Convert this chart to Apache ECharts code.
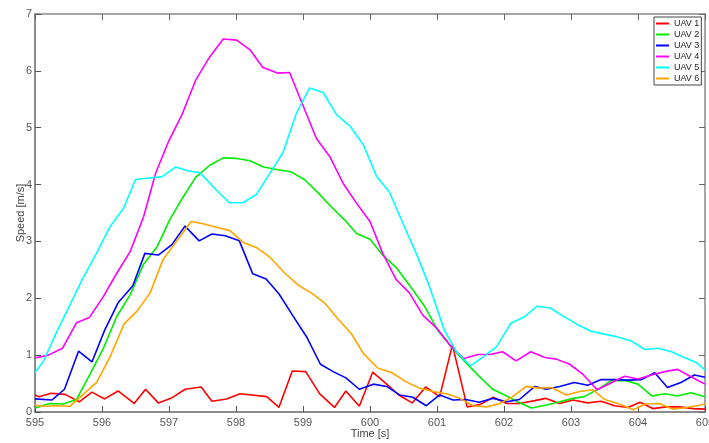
<!DOCTYPE html>
<html lang="en">

<head>
    <meta charset="UTF-8">
    <title>UAV speed</title>
    <style>
        html,
        body {
            margin: 0;
            padding: 0;
            background: #fff;
        }
    </style>
</head>

<body>
    <div id="main" style="width: 709px;height:443px;"></div>
    <script src="https://cdn.jsdelivr.net/npm/echarts@6/dist/echarts.min.js"></script>
    <script type="text/javascript">
        // [time s, speed m/s]
        var uav1 = [[595.0, 0.30], [595.06, 0.27], [595.24, 0.33], [595.45, 0.31], [595.66, 0.18], [595.85, 0.35], [596.04, 0.23], [596.24, 0.37], [596.48, 0.15], [596.65, 0.40], [596.84, 0.16], [597.03, 0.24], [597.24, 0.40], [597.48, 0.44], [597.64, 0.19], [597.86, 0.23], [598.06, 0.32], [598.46, 0.27], [598.64, 0.08], [598.84, 0.72], [599.04, 0.71], [599.25, 0.32], [599.47, 0.08], [599.64, 0.37], [599.84, 0.10], [600.04, 0.70], [600.24, 0.50], [600.44, 0.29], [600.63, 0.16], [600.83, 0.44], [601.04, 0.27], [601.23, 1.18], [601.45, 0.09], [601.64, 0.13], [601.84, 0.26], [602.04, 0.15], [602.23, 0.15], [602.46, 0.20], [602.62, 0.24], [602.83, 0.15], [603.03, 0.21], [603.25, 0.16], [603.45, 0.19], [603.65, 0.11], [603.85, 0.08], [604.03, 0.17], [604.22, 0.06], [604.42, 0.09], [604.62, 0.09], [604.83, 0.06], [605.0, 0.05]];
        var uav2 = [[595.0, 0.07], [595.22, 0.15], [595.42, 0.14], [595.62, 0.22], [595.82, 0.66], [596.02, 1.12], [596.22, 1.68], [596.42, 2.06], [596.62, 2.60], [596.82, 2.90], [597.01, 3.38], [597.2, 3.76], [597.4, 4.13], [597.61, 4.34], [597.81, 4.47], [598.01, 4.46], [598.21, 4.42], [598.41, 4.31], [598.63, 4.26], [598.83, 4.22], [599.03, 4.08], [599.23, 3.85], [599.42, 3.61], [599.62, 3.38], [599.8, 3.14], [600.0, 3.04], [600.19, 2.76], [600.4, 2.53], [600.62, 2.18], [600.82, 1.85], [601.01, 1.44], [601.23, 1.12], [601.42, 0.88], [601.62, 0.64], [601.83, 0.40], [602.01, 0.30], [602.2, 0.18], [602.41, 0.07], [602.62, 0.12], [602.83, 0.18], [603.03, 0.24], [603.2, 0.27], [603.43, 0.42], [603.6, 0.55], [603.82, 0.55], [604.0, 0.49], [604.21, 0.28], [604.4, 0.32], [604.59, 0.28], [604.79, 0.34], [605.0, 0.27]];
        var uav3 = [[595.0, 0.23], [595.25, 0.21], [595.44, 0.40], [595.65, 1.07], [595.85, 0.88], [596.04, 1.44], [596.24, 1.92], [596.46, 2.22], [596.64, 2.79], [596.84, 2.76], [597.04, 2.94], [597.24, 3.27], [597.45, 3.01], [597.64, 3.13], [597.84, 3.10], [598.05, 3.01], [598.25, 2.43], [598.45, 2.34], [598.64, 2.08], [598.85, 1.69], [599.06, 1.31], [599.26, 0.84], [599.45, 0.71], [599.64, 0.60], [599.84, 0.40], [600.05, 0.49], [600.25, 0.45], [600.44, 0.30], [600.64, 0.26], [600.84, 0.11], [601.04, 0.30], [601.24, 0.21], [601.43, 0.22], [601.63, 0.17], [601.84, 0.24], [602.04, 0.18], [602.23, 0.22], [602.46, 0.45], [602.63, 0.40], [602.83, 0.45], [603.05, 0.52], [603.25, 0.47], [603.45, 0.57], [603.65, 0.57], [603.85, 0.56], [604.05, 0.57], [604.25, 0.69], [604.44, 0.43], [604.64, 0.52], [604.84, 0.65], [605.0, 0.61]];
        var uav4 = [[595.0, 0.95], [595.2, 1.00], [595.41, 1.12], [595.62, 1.57], [595.81, 1.66], [596.02, 2.03], [596.22, 2.44], [596.42, 2.82], [596.62, 3.43], [596.8, 4.20], [596.99, 4.75], [597.19, 5.22], [597.4, 5.84], [597.61, 6.25], [597.81, 6.56], [598.01, 6.54], [598.21, 6.37], [598.4, 6.06], [598.63, 5.96], [598.8, 5.97], [599.2, 4.81], [599.4, 4.49], [599.6, 4.02], [599.8, 3.67], [600.0, 3.35], [600.19, 2.79], [600.39, 2.33], [600.59, 2.09], [600.79, 1.70], [601.0, 1.47], [601.21, 1.15], [601.4, 0.94], [601.61, 1.01], [601.79, 1.01], [601.98, 1.06], [602.18, 0.90], [602.4, 1.06], [602.61, 0.96], [602.78, 0.93], [602.98, 0.84], [603.18, 0.66], [603.39, 0.39], [603.58, 0.50], [603.8, 0.63], [604.0, 0.58], [604.2, 0.65], [604.4, 0.71], [604.59, 0.75], [604.79, 0.62], [605.0, 0.49]];
        var uav5 = [[595.0, 0.70], [595.12, 0.88], [595.32, 1.40], [595.52, 1.88], [595.7, 2.32], [595.92, 2.80], [596.12, 3.26], [596.32, 3.58], [596.5, 4.09], [596.9, 4.14], [597.1, 4.31], [597.29, 4.24], [597.46, 4.21], [597.71, 3.90], [597.9, 3.68], [598.1, 3.68], [598.3, 3.82], [598.7, 4.56], [598.9, 5.25], [599.1, 5.70], [599.3, 5.62], [599.5, 5.23], [599.7, 5.03], [599.9, 4.70], [600.1, 4.14], [600.29, 3.87], [600.49, 3.32], [600.69, 2.79], [600.89, 2.20], [601.11, 1.44], [601.29, 1.06], [601.5, 0.81], [601.69, 0.97], [601.89, 1.15], [602.1, 1.56], [602.3, 1.67], [602.49, 1.86], [602.69, 1.83], [602.88, 1.69], [603.09, 1.54], [603.3, 1.42], [603.5, 1.37], [603.7, 1.32], [603.9, 1.25], [604.1, 1.10], [604.3, 1.12], [604.5, 1.06], [604.69, 0.96], [604.87, 0.87], [605.0, 0.74]];
        var uav6 = [[595.0, 0.12], [595.12, 0.10], [595.32, 0.11], [595.52, 0.10], [595.92, 0.52], [596.12, 0.97], [596.33, 1.55], [596.52, 1.77], [596.72, 2.10], [596.91, 2.68], [597.11, 3.00], [597.33, 3.35], [597.51, 3.31], [597.71, 3.25], [597.91, 3.19], [598.11, 2.98], [598.31, 2.89], [598.5, 2.73], [598.73, 2.44], [598.93, 2.23], [599.13, 2.09], [599.33, 1.91], [599.52, 1.64], [599.72, 1.38], [599.9, 1.03], [600.12, 0.77], [600.33, 0.69], [600.54, 0.53], [600.74, 0.42], [600.94, 0.36], [601.14, 0.32], [601.34, 0.24], [601.54, 0.11], [601.74, 0.09], [601.94, 0.15], [602.13, 0.27], [602.33, 0.45], [602.51, 0.42], [602.71, 0.43], [602.93, 0.30], [603.13, 0.36], [603.33, 0.39], [603.5, 0.22], [603.7, 0.15], [603.93, 0.04], [604.11, 0.14], [604.32, 0.15], [604.52, 0.05], [604.72, 0.08], [604.92, 0.12], [605.0, 0.14]];

        var names = ['UAV 1', 'UAV 2', 'UAV 3', 'UAV 4', 'UAV 5', 'UAV 6'];
        var colors = ['#ff0000', '#00ee00', '#0000ff', '#ff00ff', '#00ffff', '#ffa500'];
        var allData = [uav1, uav2, uav3, uav4, uav5, uav6];

        var font = 'Liberation Sans, Arial, Helvetica, sans-serif';
        var myChart = echarts.init(document.getElementById('main'));

        var series = [];
        for (var i = 0; i < names.length; i++) {
            series.push({
                name: names[i],
                type: 'line',
                data: allData[i],
                showSymbol: false,
                symbol: 'none',
                xAxisIndex: 0,
                yAxisIndex: 0,
                lineStyle: { color: colors[i], width: 1.6 },
                itemStyle: { color: colors[i] },
                animation: false
            });
        }

        var option = {
            animation: false,
            backgroundColor: '#fff',
            textStyle: { fontFamily: font },
            grid: {
                left: 35,
                right: 4,
                top: 14,
                bottom: 31,
                containLabel: false,
                outerBoundsMode: 'none'
            },
            legend: {
                data: names,
                orient: 'vertical',
                left: 654,
                top: 17,
                icon: 'rect',
                itemWidth: 13,
                itemHeight: 2,
                itemGap: 0,
                padding: [1, 2, 1, 2],
                borderColor: '#444',
                borderWidth: 1,
                backgroundColor: '#fff',
                textStyle: { fontSize: 9, lineHeight: 11, color: '#222', fontFamily: font }
            },
            xAxis: [{
                type: 'value',
                min: 595,
                max: 605,
                interval: 1,
                name: 'Time [s]',
                nameLocation: 'middle',
                nameGap: 16,
                nameMoveOverlap: false,
                nameTextStyle: { fontSize: 11, color: '#444', fontFamily: font },
                axisLine: { onZero: false, lineStyle: { color: '#666', width: 1.5 } },
                axisTick: { inside: true, length: 6, lineStyle: { color: '#555' } },
                axisLabel: { margin: 5, fontSize: 11, color: '#555', fontFamily: font },
                splitLine: { show: false }
            }, {
                type: 'value',
                position: 'top',
                min: 595,
                max: 605,
                interval: 1,
                axisLine: { onZero: false, lineStyle: { color: '#888', width: 1.5 } },
                axisTick: { inside: true, length: 6, lineStyle: { color: '#666' } },
                axisLabel: { show: false },
                splitLine: { show: false }
            }],
            yAxis: [{
                type: 'value',
                min: 0,
                max: 7,
                interval: 1,
                name: 'Speed [m/s]',
                nameLocation: 'middle',
                nameGap: 9,
                nameMoveOverlap: false,
                nameTextStyle: { fontSize: 11, color: '#444', fontFamily: font },
                axisLine: { show: true, onZero: false, lineStyle: { color: '#666', width: 1.5 } },
                axisTick: { show: true, inside: true, length: 6, lineStyle: { color: '#555' } },
                axisLabel: { margin: 3, fontSize: 11, color: '#555', fontFamily: font },
                splitLine: { show: false }
            }, {
                type: 'value',
                position: 'right',
                min: 0,
                max: 7,
                interval: 1,
                axisLine: { show: true, onZero: false, lineStyle: { color: '#888', width: 1.5 } },
                axisTick: { show: true, inside: true, length: 6, lineStyle: { color: '#666' } },
                axisLabel: { show: false },
                splitLine: { show: false }
            }],
            series: series
        };
        myChart.setOption(option);
    </script>
</body>

</html>
